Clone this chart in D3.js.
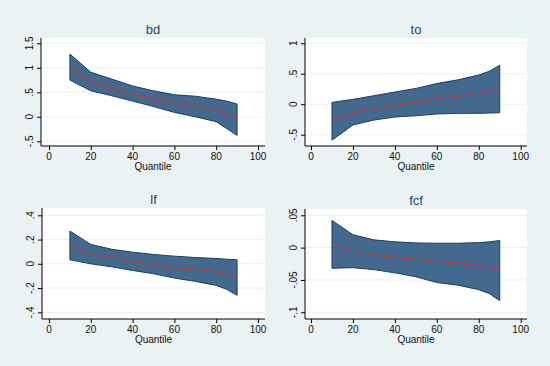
<!DOCTYPE html>
<html>
<head>
<meta charset="utf-8">
<script src="https://cdn.jsdelivr.net/npm/d3@7"></script>
<style>
  body { margin: 0; background: #eaf2f3; }
  svg { display: block; font-family: "Liberation Sans", Arial, sans-serif; }
  .title { font-size: 13px; fill: #1a476f; }
  .tick-label { font-size: 10px; fill: #111; }
  .axis-title { font-size: 10px; fill: #111; }
</style>
</head>
<body>
<div id="chart"></div>
<script>
// quantiles used for every panel
const quantiles = [10, 20, 30, 40, 50, 60, 70, 80, 85, 90];
const xTicks = [0, 20, 40, 60, 80, 100];

// bd
const bdMid   = [1.00, 0.71, 0.58, 0.46, 0.36, 0.27, 0.22, 0.14, 0.05, -0.05];
const bdUpper = [1.28, 0.91, 0.77, 0.63, 0.53, 0.45, 0.42, 0.36, 0.32, 0.26];
const bdLower = [0.75, 0.53, 0.43, 0.32, 0.21, 0.09, 0.00, -0.10, -0.24, -0.38];
const bdTicks = [-0.5, 0, 0.5, 1, 1.5];
const bdTickLabels = ["-.5", "0", ".5", "1", "1.5"];

// to
const toMid   = [-0.28, -0.14, -0.07, -0.02, 0.03, 0.09, 0.13, 0.18, 0.21, 0.24];
const toUpper = [0.03, 0.08, 0.14, 0.20, 0.26, 0.34, 0.40, 0.48, 0.54, 0.64];
const toLower = [-0.59, -0.34, -0.26, -0.21, -0.19, -0.16, -0.15, -0.15, -0.145, -0.14];
const toTicks = [-0.5, 0, 0.5, 1];
const toTickLabels = ["-.5", "0", ".5", "1"];

// lf
const lfMid   = [0.15, 0.077, 0.044, 0.016, -0.005, -0.03, -0.044, -0.066, -0.085, -0.115];
const lfUpper = [0.27, 0.16, 0.12, 0.096, 0.077, 0.063, 0.052, 0.044, 0.038, 0.033];
const lfLower = [0.033, 0.0, -0.025, -0.055, -0.082, -0.118, -0.145, -0.178, -0.21, -0.26];
const lfTicks = [-0.4, -0.2, 0, 0.2, 0.4];
const lfTickLabels = ["-.4", "-.2", "0", ".2", ".4"];

// fcf
const fcfMid   = [0.005, -0.006, -0.011, -0.015, -0.018, -0.021, -0.024, -0.028, -0.031, -0.034];
const fcfUpper = [0.042, 0.020, 0.012, 0.009, 0.0073, 0.0068, 0.0068, 0.0078, 0.009, 0.011];
const fcfLower = [-0.032, -0.031, -0.034, -0.039, -0.045, -0.054, -0.058, -0.065, -0.071, -0.082];
const fcfTicks = [-0.1, -0.05, 0, 0.05];
const fcfTickLabels = ["-.1", "-.05", "0", ".05"];

// panel layout (pixel boxes of each plot region and where the axis ranges land)
const panels = [
  { name: "bd", mid: bdMid, upper: bdUpper, lower: bdLower, ticks: bdTicks, labels: bdTickLabels,
    box: { x0: 41, x1: 265, y0: 38, y1: 146 }, xr: [49, 258], yd: [-0.5, 1.5], yr: [141.3, 43.3] },
  { name: "to", mid: toMid, upper: toUpper, lower: toLower, ticks: toTicks, labels: toTickLabels,
    box: { x0: 305, x1: 527, y0: 38, y1: 146 }, xr: [311, 520.7], yd: [-0.5, 1], yr: [134.7, 43.3] },
  { name: "lf", mid: lfMid, upper: lfUpper, lower: lfLower, ticks: lfTicks, labels: lfTickLabels,
    box: { x0: 42, x1: 265, y0: 208, y1: 319 }, xr: [49, 258], yd: [-0.4, 0.4], yr: [312.3, 215.3] },
  { name: "fcf", mid: fcfMid, upper: fcfUpper, lower: fcfLower, ticks: fcfTicks, labels: fcfTickLabels,
    box: { x0: 305, x1: 527, y0: 209, y1: 319 }, xr: [311, 520.7], yd: [-0.1, 0.05], yr: [312.3, 215.3] }
];

const width = 550, height = 366;

const svg = d3.select("#chart").append("svg")
    .attr("width", width)
    .attr("height", height);

svg.append("rect")
    .attr("width", width).attr("height", height)
    .attr("fill", "#eaf2f3");

panels.forEach(p => {
    const g = svg.append("g");
    const b = p.box;
    const x = d3.scaleLinear().domain([0, 100]).range(p.xr);
    const y = d3.scaleLinear().domain(p.yd).range(p.yr);

    // plot region
    g.append("rect")
        .attr("x", b.x0).attr("y", b.y0)
        .attr("width", b.x1 - b.x0).attr("height", b.y1 - b.y0)
        .attr("fill", "#ffffff");

    // grid lines
    g.selectAll(".grid")
        .data(p.ticks)
        .enter().append("line")
        .attr("x1", b.x0).attr("x2", b.x1)
        .attr("y1", d => y(d)).attr("y2", d => y(d))
        .attr("stroke", "#eaf2f3")
        .attr("stroke-width", 1);

    const rows = quantiles.map((q, i) => ({ q: q, mid: p.mid[i], lo: p.lower[i], hi: p.upper[i] }));

    // confidence band
    g.append("path")
        .datum(rows)
        .attr("d", d3.area().x(d => x(d.q)).y0(d => y(d.lo)).y1(d => y(d.hi)))
        .attr("fill", "#44698e")
        .attr("stroke", "#1a3f63")
        .attr("stroke-width", 1)
        .attr("stroke-linejoin", "round");

    // estimate
    g.append("path")
        .datum(rows)
        .attr("d", d3.line().x(d => x(d.q)).y(d => y(d.mid)))
        .attr("fill", "none")
        .attr("stroke", "#c0393b")
        .attr("stroke-width", 1.1);

    // y axis
    const yAxis = g.append("g")
        .attr("transform", `translate(${b.x0},0)`)
        .call(d3.axisLeft(y).tickValues(p.ticks).tickSize(4).tickFormat(""));
    yAxis.select(".domain").attr("d", `M0,${b.y0}V${b.y1}`).attr("stroke", "#000");
    yAxis.selectAll(".tick line").attr("stroke", "#000");

    g.selectAll(".ylab")
        .data(p.ticks)
        .enter().append("text")
        .attr("class", "tick-label")
        .attr("text-anchor", "middle")
        .attr("transform", d => `translate(${b.x0 - 8},${y(d)}) rotate(-90)`)
        .text((d, i) => p.labels[i]);

    // x axis
    const xAxis = g.append("g")
        .attr("transform", `translate(0,${b.y1})`)
        .call(d3.axisBottom(x).tickValues(xTicks).tickSize(4).tickFormat(""));
    xAxis.select(".domain").attr("d", `M${b.x0},0H${b.x1}`).attr("stroke", "#000");
    xAxis.selectAll(".tick line").attr("stroke", "#000");

    g.selectAll(".xlab")
        .data(xTicks)
        .enter().append("text")
        .attr("class", "tick-label")
        .attr("text-anchor", "middle")
        .attr("x", d => x(d))
        .attr("y", b.y1 + 14)
        .text(d => d);

    g.append("text")
        .attr("class", "axis-title")
        .attr("text-anchor", "middle")
        .attr("x", (b.x0 + b.x1) / 2)
        .attr("y", b.y1 + 24)
        .text("Quantile");

    g.append("text")
        .attr("class", "title")
        .attr("text-anchor", "middle")
        .attr("x", (b.x0 + b.x1) / 2)
        .attr("y", b.y0 - 4)
        .text(p.name);
});
</script>
</body>
</html>
